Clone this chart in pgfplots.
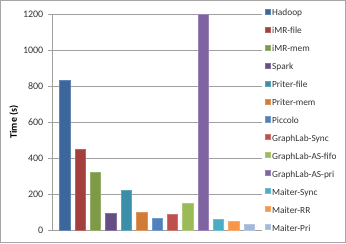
\documentclass[border=0pt]{standalone}
\usepackage{fontspec}
\setmainfont{Carlito}
\usepackage{pgfplots}
\pgfplotsset{compat=1.18}
\definecolor{c1}{HTML}{3C679C}
\definecolor{c2}{HTML}{A33F3C}
\definecolor{c3}{HTML}{7E9A47}
\definecolor{c4}{HTML}{664D83}
\definecolor{c5}{HTML}{3A8EA7}
\definecolor{c6}{HTML}{D07C37}
\definecolor{c7}{HTML}{4F81BD}
\definecolor{c8}{HTML}{C0504D}
\definecolor{c9}{HTML}{9BBB59}
\definecolor{c10}{HTML}{8064A2}
\definecolor{c11}{HTML}{4BACC6}
\definecolor{c12}{HTML}{F79646}
\definecolor{c13}{HTML}{A5B8D8}
\definecolor{gridc}{HTML}{A0A0A0}
\begin{document}
\begin{tikzpicture}
\path[use as bounding box] (0,0) rectangle (259.5pt,182.25pt);
\draw[gray!70,line width=0.6pt] (0.4pt,0.4pt) rectangle (259.1pt,181.85pt);
\begin{axis}[
  at={(39pt,9.75pt)}, anchor=south west,
  scale only axis, width=157.5pt, height=162pt,
  xmin=-0.83, xmax=12.83, ymin=0, ymax=1200,
  ytick={0,200,...,1200},
  xtick=\empty,
  ymajorgrids, grid style={gridc, line width=0.6pt},
  axis x line*=bottom, axis y line*=left,
  axis line style={gridc, line width=0.6pt},
  x axis line style={-}, y axis line style={-},
  ytick style={gridc, line width=0.6pt},
  tick align=outside, major tick length=3pt,
  /pgf/number format/assume math mode=true,
  /pgf/number format/1000 sep={},
  yticklabel style={font=\fontsize{7.5}{8}\selectfont, text=black!80},
  ylabel={\textbf{Time (s)}},
  ylabel style={font=\fontsize{7.5}{8}\selectfont, at={(axis description cs:-0.181,0.5)}, anchor=center},
  ybar, bar shift=0pt, bar width=0.68,
  clip=true,
  legend cell align=left,
  legend style={draw=none, fill=none, inner sep=0pt,
    at={(axis description cs:1.014,1.028)}, anchor=north west,
    font=\fontsize{7}{7}\selectfont, row sep=5.45pt,
    nodes={inner sep=1pt, text height=4.8pt, text depth=1.2pt, text=black!80}},
  legend image code/.code={\fill[#1] (0pt,-0.5pt) rectangle (3.8pt,3.3pt);},
]
\addplot[fill=c1, draw=c1!80!white] coordinates {(0,833)};
\addplot[fill=c2, draw=c2!80!white] coordinates {(1,449)};
\addplot[fill=c3, draw=c3!80!white] coordinates {(2,321)};
\addplot[fill=c4, draw=c4!80!white] coordinates {(3,91)};
\addplot[fill=c5, draw=c5!80!white] coordinates {(4,219)};
\addplot[fill=c6, draw=c6!80!white] coordinates {(5,100)};
\addplot[fill=c7, draw=c7!80!white] coordinates {(6,67)};
\addplot[fill=c8, draw=c8!80!white] coordinates {(7,85)};
\addplot[fill=c9, draw=c9!80!white] coordinates {(8,150)};
\addplot[fill=c10, draw=c10!80!white] coordinates {(9,1200)};
\addplot[fill=c11, draw=c11!80!white] coordinates {(10,59)};
\addplot[fill=c12, draw=c12!80!white] coordinates {(11,46)};
\addplot[fill=c13, draw=c13!80!white] coordinates {(12,30)};
\legend{Hadoop,iMR-file,iMR-mem,Spark,Priter-file,Priter-mem,Piccolo,GraphLab-Sync,GraphLab-AS-fifo,GraphLab-AS-pri,Maiter-Sync,Maiter-RR,Maiter-Pri}
\end{axis}
\end{tikzpicture}
\end{document}
